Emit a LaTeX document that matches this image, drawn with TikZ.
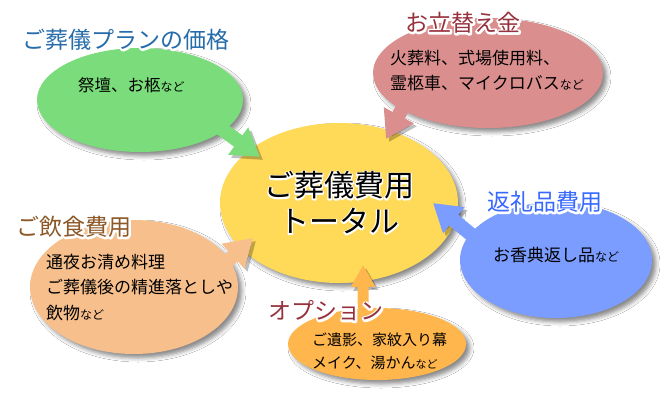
\documentclass[tikz,border=0pt]{standalone}
\usepackage{fontspec}
\newfontfamily\jp{Noto Sans CJK JP}
\usetikzlibrary{arrows.meta,shapes.geometric,shadows.blur}

\definecolor{planGreen}{RGB}{122,220,122}
\definecolor{advPink}  {RGB}{219,142,142}
\definecolor{totalYel} {RGB}{255,217,88}
\definecolor{mealPeach}{RGB}{247,191,140}
\definecolor{giftBlue} {RGB}{123,157,255}
\definecolor{optOrange}{RGB}{255,182,77}
\definecolor{hdBlue}   {RGB}{38,108,170}
\definecolor{hdRed}    {RGB}{150,50,62}
\definecolor{hdBrown}  {RGB}{140,88,40}
\definecolor{hdBright} {RGB}{55,105,255}

% white rim round a text: colour, stroke width, text
\newcommand{\halo}[3]{%
  \rlap{\textcolor{white}{\special{pdf:literal direct #2 w 1 j 1 Tr}#3\special{pdf:literal direct 0 Tr}}}%
  \textcolor{#1}{#3}}
\newcommand{\nado}[1][12]{{\fontsize{#1}{20}\selectfont など}}

\begin{document}
\begin{tikzpicture}[x=1pt,y=-1pt,
    bubble/.style={ellipse, inner sep=0pt,
      blur shadow={shadow xshift=4pt, shadow yshift=-4pt,
        shadow blur radius=4pt, shadow opacity=45}},
    body/.style={anchor=west, inner sep=0pt, align=left},
    heading/.style={inner sep=0pt, font=\jp\fontsize{23}{23}\selectfont},
    feed/.style={line width=14pt, -{Triangle[width=32pt,length=27pt]},
      shorten <=-6pt,
      preaction={draw=black, opacity=.25, shorten <=12pt,
        transform canvas={shift={(3pt,-3pt)}}}},
    smallfeed/.style={feed, line width=11pt, -{Triangle[width=23pt,length=22pt]}}]
  \fill[white](0,0) rectangle (660,402);
  \useasboundingbox (0,0) rectangle (660,402);

  % centre
  \node[bubble, fill=totalYel, minimum width=238pt, minimum height=160pt,
        align=center, font=\jp\fontsize{30}{36}\selectfont]
        (total) at (339,203)
        {\halo{black}{2.6}{ご葬儀費用}\\\halo{black}{2.6}{トータル}};

  % the five costs
  \node[bubble, fill=planGreen, minimum width=206pt, minimum height=104pt] (plan) at (140,100) {};
  \node[bubble, fill=advPink,   minimum width=230pt, minimum height=110pt] (adv)  at (488,73) {};
  \node[bubble, fill=mealPeach, minimum width=208pt, minimum height=134pt] (meal) at (134,287) {};
  \node[bubble, fill=giftBlue,  minimum width=192pt, minimum height=116pt] (gift) at (556,260) {};
  \node[bubble, fill=optOrange, minimum width=178pt, minimum height=72pt]  (opt)  at (377,344) {};

  \coordinate (planTip) at (260,157);
  \coordinate (advTip)  at (386,139);
  \coordinate (mealTip) at (253,238);
  \coordinate (giftTip) at (433,203);
  \coordinate (optTip)  at (363,265);

  \draw[feed, planGreen](plan.-20)--(planTip);
  \draw[feed, advPink](adv.-157)--(advTip);
  \draw[feed, mealPeach](meal.16)--(mealTip);
  \draw[feed, giftBlue](gift.163)--(giftTip);
  \draw[smallfeed, optOrange](opt.111)--(optTip);

  % texts
  \node[body, font=\jp\fontsize{16.5}{25}\selectfont] (planTxt) at (78,85) {祭壇、お柩\nado};
  \node[body, font=\jp\fontsize{17}{25}\selectfont] (advTxt) at (390,70.5)
        {火葬料、式場使用料、\\霊柩車、マイクロバス\nado};
  \node[body, font=\jp\fontsize{17}{25.5}\selectfont] (mealTxt) at (46,287.5)
        {通夜お清め料理\\ご葬儀後の精進落としや\\飲物\nado};
  \node[body, font=\jp\fontsize{17}{25}\selectfont] (giftTxt) at (493,255) {お香典返し品\nado};
  \node[body, font=\jp\fontsize{15}{23}\selectfont] (optTxt) at (312,351.5)
        {ご遺影、家紋入り幕\\メイク、湯かん\nado[11]};

  \node[heading] (planHd) at (126,40)  {\halo{hdBlue}{4}{ご葬儀プランの価格}};
  \node[heading] (advHd)  at (463,23)  {\halo{hdRed}{4}{お立替え金}};
  \node[heading] (mealHd) at (74,227)  {\halo{hdBrown}{4}{ご飲食費用}};
  \node[heading] (giftHd) at (545,202) {\halo{hdBright}{4}{返礼品費用}};
  \node[heading] (optHd)  at (326,311) {\halo{hdRed}{4}{オプション}};
\end{tikzpicture}
\end{document}
